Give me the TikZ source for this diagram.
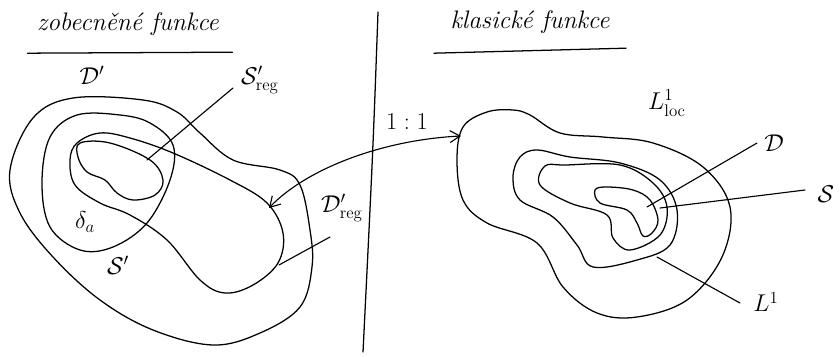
\documentclass[tikz,border=0pt]{standalone}
\usepackage{amsmath,amssymb}
\usetikzlibrary{arrows.meta,calc}

\begin{document}
\begin{tikzpicture}[
  x=0.025cm, y=-0.025cm,
  contour/.style={line width=0.9pt, line join=round, line cap=round},
  leader/.style={line width=0.8pt, line cap=round},
  heading/.style={font=\fontsize{18}{20}\selectfont\itshape, inner sep=1pt},
  setlabel/.style={font=\LARGE, inner sep=1pt},
  corresp/.style={{Straight Barb[length=2.5mm,width=3mm]}-{Straight Barb[length=2.5mm,width=3mm]},
    line width=0.8pt}
]
\useasboundingbox (0,0) rectangle (840,356);

% headings
\node[heading] (genhead) at (128,24) {zobecněné funkce};
\node[heading] (clshead) at (530,22) {klasické funkce};
\draw[contour] ($(genhead.south west)+(-8,16)$) -- ($(genhead.south east)+(12,15)$);
\draw[contour] ($(clshead.south west)+(-15,18)$) -- ($(clshead.south east)+(15,13)$);

% divider
\draw[contour] (378,12) .. controls (373,150) .. (363,352);

% left: generalized functions
\draw[contour] plot[smooth cycle,tension=0.6] coordinates {
  (33,118) (73,98) (143,100) (177,112) (200,133) (233,160) (280,170) (300,185)
  (310,230) (312,267) (300,307) (260,333) (213,345) (153,330) (100,300)
  (53,257) (20,213) (10,170)};
\draw[contour] plot[smooth cycle,tension=0.6] coordinates {
  (50,137) (77,115) (120,115) (150,123) (173,145) (170,180) (147,223)
  (113,247) (80,250) (50,227) (42,183)};
\draw[contour] plot[smooth cycle,tension=0.6] coordinates {
  (100,133) (130,138) (173,153) (230,180) (267,203) (283,233) (278,263)
  (253,285) (225,293) (200,280) (167,240) (130,215) (100,203) (75,185)
  (70,160) (77,143)};
\draw[contour] plot[smooth cycle,tension=0.6] coordinates {
  (80,143) (110,143) (150,160) (163,180) (155,195) (133,200) (117,193)
  (105,180) (87,172) (78,157)};

\node[setlabel] (dprime) at (92,75) {$\mathcal{D}'$};
\node[setlabel] (sreg) at (260,80) {$\mathcal{S}'_{\mathrm{reg}}$};
\node[setlabel] (delta) at (85,222) {$\delta_a$};
\node[setlabel] (sprime) at (118,265) {$\mathcal{S}'$};
\node[setlabel] (dreg) at (342,208) {$\mathcal{D}'_{\mathrm{reg}}$};

\coordinate (sreg-from) at (233,88);
\coordinate (sreg-to) at (147,160);
\draw[leader] (sreg-from) -- (sreg-to);
\coordinate (dreg-from) at (330,237);
\coordinate (dreg-to) at (279,265);
\draw[leader] (dreg-from) -- (dreg-to);

% right: classical functions
\draw[contour] plot[smooth cycle,tension=0.6] coordinates {
  (463,127) (487,112) (513,110) (530,115) (560,133) (603,137) (653,143)
  (703,167) (730,207) (722,257) (687,300) (637,317) (597,313) (563,287)
  (537,243) (487,223) (463,200) (457,160)};
\draw[contour] plot[smooth cycle,tension=0.6] coordinates {
  (520,157) (537,150) (570,157) (620,163) (660,180) (677,210) (670,245)
  (637,260) (593,267) (577,245) (553,217) (520,200) (513,177)};
\draw[contour] plot[smooth cycle,tension=0.6] coordinates {
  (545,166) (565,165) (620,165) (653,183) (667,207) (660,235) (630,250)
  (613,238) (607,215) (570,203) (540,185)};
\draw[contour] plot[smooth cycle,tension=0.6] coordinates {
  (595,190) (607,187) (633,190) (650,200) (658,220) (652,233) (643,236)
  (637,223) (627,210) (600,203)};

\node[setlabel] (lloc) at (667,103) {$L^1_{\mathrm{loc}}$};
\node[setlabel] (dtest) at (774,143) {$\mathcal{D}$};
\node[setlabel] (schw) at (826,194) {$\mathcal{S}$};
\node[setlabel] (lone) at (766,302) {$L^1$};

\coordinate (dtest-from) at (757,143);
\coordinate (dtest-to) at (647,207);
\draw[leader] (dtest-from) -- (dtest-to);
\coordinate (schw-from) at (805,190);
\coordinate (schw-to) at (660,208);
\draw[leader] (schw-from) -- (schw-to);
\coordinate (lone-from) at (740,303);
\coordinate (lone-to) at (657,257);
\draw[leader] (lone-from) -- (lone-to);

% one-to-one correspondence
\node[setlabel] (onetoone) at (407,122) {$1:1$};
\coordinate (dreg-pt) at (269,208);
\coordinate (lloc-pt) at (461,136);
\draw[corresp] (dreg-pt) .. controls (305,170) and (380,140) .. (lloc-pt);
\end{tikzpicture}
\end{document}
